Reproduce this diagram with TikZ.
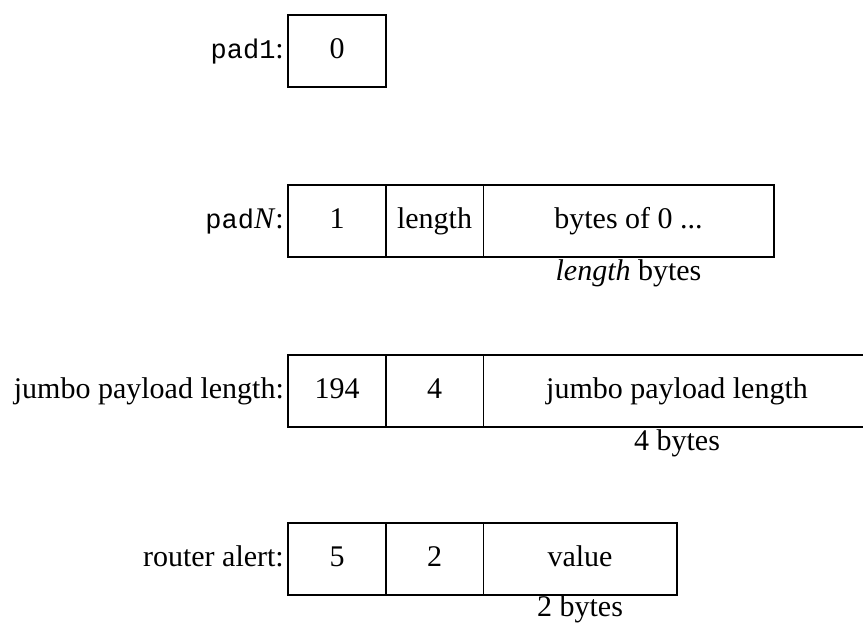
\documentclass[tikz,border=0pt]{standalone}
\usepackage{fontspec}
\setmainfont{Liberation Serif}
\setmonofont{Liberation Mono}
\usetikzlibrary{positioning}
\tikzset{
  field/.style={draw,line width=1pt,minimum height=72pt,inner sep=0pt,outer sep=0pt,text height=20pt,text depth=6pt,align=center,font=\fontsize{30}{34}\selectfont},
  outline/.style={line width=2.2pt,line cap=rect},
  namelabel/.style={inner sep=0pt,text height=20pt,text depth=6pt,font=\fontsize{30}{34}\selectfont},
  sizelabel/.style={inner sep=0pt,font=\fontsize{30}{34}\selectfont}
}
\begin{document}
\begin{tikzpicture}[x=1pt,y=-1pt]
  \useasboundingbox (0,0) rectangle (863,624);
  \clip (0,0) rectangle (863,624);

  % pad1
  \node[field,minimum width=98pt] (padone) at (337,51) {0};
  \draw[outline] (padone.north west) rectangle (padone.south east);
  \node[namelabel,left=4pt of padone] (padonelabel) {{\fontsize{27}{30}\ttfamily pad1}:};

  % padN
  \node[field,minimum width=98pt] (padn1) at (337,221) {1};
  \node[field,minimum width=97pt,right=0pt of padn1] (padn2) {length};
  \node[field,minimum width=291pt,right=0pt of padn2] (padn3) {bytes of 0 ...};
  \draw[outline] (padn1.north west) rectangle (padn3.south east);
  \draw[outline] (padn1.north east) -- (padn1.south east);
  \node[namelabel,left=4pt of padn1] (padnlabel) {{\fontsize{27}{30}\ttfamily pad}\textit{N}:};
  \node[sizelabel,below=2pt of padn3] (padnsize) {\textit{length} bytes};

  % jumbo payload length
  \node[field,minimum width=98pt] (jumbo1) at (337,391) {194};
  \node[field,minimum width=97pt,right=0pt of jumbo1] (jumbo2) {4};
  \node[field,minimum width=388pt,right=0pt of jumbo2] (jumbo3) {jumbo payload length};
  \draw[outline] (jumbo1.north west) rectangle (jumbo3.south east);
  \draw[outline] (jumbo1.north east) -- (jumbo1.south east);
  \node[namelabel,left=4pt of jumbo1] (jumbolabel) {jumbo payload length:};
  \node[sizelabel,below=2pt of jumbo3] (jumbosize) {4 bytes};

  % router alert
  \node[field,minimum width=98pt] (alert1) at (337,559) {5};
  \node[field,minimum width=97pt,right=0pt of alert1] (alert2) {2};
  \node[field,minimum width=194pt,right=0pt of alert2] (alert3) {value};
  \draw[outline] (alert1.north west) rectangle (alert3.south east);
  \draw[outline] (alert1.north east) -- (alert1.south east);
  \node[namelabel,left=4pt of alert1] (alertlabel) {router alert:};
  \node[sizelabel,below=0pt of alert3] (alertsize) {2 bytes};
\end{tikzpicture}
\end{document}
